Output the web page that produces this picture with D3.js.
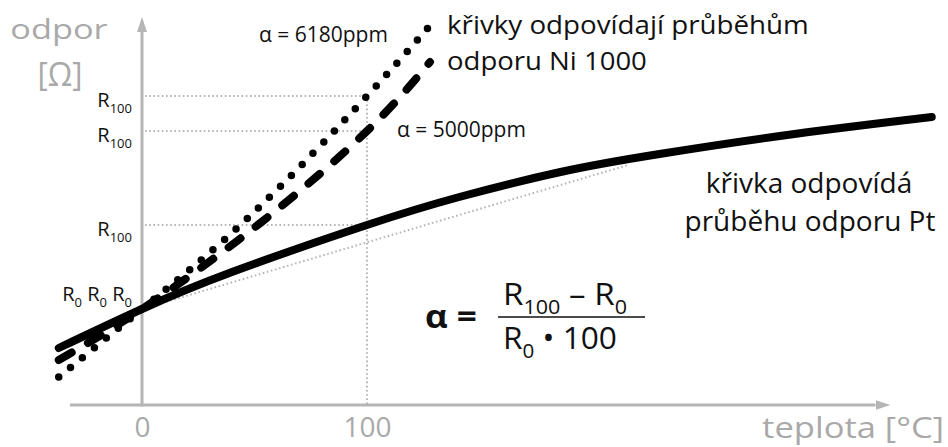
<!doctype html>
<html lang="cs">
<head>
<meta charset="utf-8">
<title>Odpor v závislosti na teplotě</title>
<script src="https://cdn.jsdelivr.net/npm/d3@7"></script>
<style>
  body { margin: 0; background: #fff; }
  svg text { font-family: "Open Sans", sans-serif; }
</style>
</head>
<body>
<script>
// teplota [°C] a odpor (libovolné jednotky)
const ptTemp = [-37, 0, 40, 100, 141, 186, 230, 290, 351];
const ptRes = [57, 96, 133, 180, 208, 233, 251, 271, 288];
const ni6180Temp = [-37, 0, 48, 100, 129];
const ni6180Res = [28, 96, 189, 309, 382];
const ni5000Temp = [-37, 0, 52, 100, 128];
const ni5000Res = [45, 96, 181, 274, 343];
const chordTemp = [0, 216];
const chordRes = [96, 240];
const r0 = 96;
const r100Levels = [309, 274, 180];
const tickValues = [0, 100];
const xExtent = [-32, 326];
const yExtent = [0, 373];

const w = 948, h = 447;
const gray = "#b5b5b5";
const textGray = "#a9a9a9";

const xScale = d3.scaleLinear().domain([0, 100]).range([142, 367]);
const yScale = d3.scaleLinear().domain([0, 400]).range([405, 5]);

const svg = d3.select("body").append("svg")
  .attr("width", w)
  .attr("height", h);

svg.append("defs").append("marker")
  .attr("id", "arrow")
  .attr("viewBox", "0 -5 15 10")
  .attr("refX", 0).attr("refY", 0)
  .attr("markerUnits", "userSpaceOnUse")
  .attr("markerWidth", 15).attr("markerHeight", 10)
  .attr("orient", "auto")
  .append("path")
  .attr("d", "M0,-5L15,0L0,5Z")
  .attr("fill", gray);

const zip = (a, b) => a.map((d, i) => [d, b[i]]);
const line = d3.line()
  .x(d => xScale(d[0]))
  .y(d => yScale(d[1]))
  .curve(d3.curveNatural);

// pomocné tečkované čáry
const guides = svg.append("g")
  .attr("stroke", gray)
  .attr("stroke-width", 2)
  .attr("stroke-dasharray", "1.6,2.6")
  .attr("fill", "none");

guides.selectAll(".r100")
  .data(r100Levels)
  .join("line")
  .attr("x1", xScale(0) + 3).attr("x2", xScale(100))
  .attr("y1", d => yScale(d)).attr("y2", d => yScale(d));

guides.append("line")
  .attr("x1", xScale(100)).attr("x2", xScale(100))
  .attr("y1", yScale(d3.max(r100Levels))).attr("y2", yScale(0));

guides.append("path")
  .attr("d", d3.line().x(d => xScale(d[0])).y(d => yScale(d[1]))(zip(chordTemp, chordRes)));

// osy
svg.append("line")
  .attr("x1", xScale(0)).attr("x2", xScale(0))
  .attr("y1", yScale(yExtent[0]) + 1.5).attr("y2", yScale(yExtent[1]))
  .attr("stroke", gray).attr("stroke-width", 3)
  .attr("marker-end", "url(#arrow)");

svg.append("line")
  .attr("x1", xScale(xExtent[0])).attr("x2", xScale(xExtent[1]))
  .attr("y1", yScale(0)).attr("y2", yScale(0))
  .attr("stroke", gray).attr("stroke-width", 3)
  .attr("marker-end", "url(#arrow)");

const xAxis = d3.axisBottom(xScale).tickValues(tickValues).tickSize(0).tickPadding(12);
svg.append("g")
  .attr("transform", "translate(0," + yScale(0) + ")")
  .call(xAxis)
  .call(g => g.select(".domain").remove())
  .selectAll("text")
  .attr("font-family", null)
  .style("font-size", "28px")
  .attr("fill", textGray);

// křivky
svg.append("path")
  .attr("d", line(zip(ptTemp, ptRes)))
  .attr("fill", "none").attr("stroke", "#000")
  .attr("stroke-width", 8).attr("stroke-linecap", "round");

svg.append("path")
  .attr("d", line(zip(ni5000Temp, ni5000Res)))
  .attr("fill", "none").attr("stroke", "#000")
  .attr("stroke-width", 8).attr("stroke-linecap", "round")
  .attr("stroke-dasharray", "15,19");

svg.append("path")
  .attr("d", line(zip(ni6180Temp, ni6180Res)))
  .attr("fill", "none").attr("stroke", "#000")
  .attr("stroke-width", 7.5).attr("stroke-linecap", "round")
  .attr("stroke-dasharray", "0,15.4");

// texty
function rich(x, y, parts, size, anchor, opts = {}) {
  const t = svg.append("text")
    .attr("x", x).attr("y", y)
    .attr("text-anchor", anchor || "start")
    .attr("fill", opts.fill || "#111")
    .style("font-size", size + "px");
  if (opts.bold) t.attr("font-weight", "bold");
  let shift = 0;
  parts.forEach(p => {
    const isSub = Array.isArray(p);
    const txt = isSub ? p[0] : p;
    const target = isSub ? size * 0.28 : 0;
    t.append("tspan")
      .attr("dy", target - shift)
      .style("font-size", (isSub ? size * 0.65 : size) + "px")
      .text(txt);
    shift = target;
  });
  // roztažení na šířku jako v předloze
  if (opts.width) {
    const bw = t.node().getBBox().width;
    const k = opts.width / bw;
    t.attr("transform", `translate(${x},0) scale(${k},1) translate(${-x},0)`);
  }
  return t;
}

rich(59, 39, ["odpor"], 28, "middle", { fill: textGray, width: 98 });
rich(60, 86, ["[Ω]"], 32, "middle", { fill: textGray, width: 45 });
rich(944, 438, ["teplota [°C]"], 29, "end", { fill: textGray, width: 182 });

r100Levels.forEach(v => rich(132, yScale(v) + 11, ["R", ["100"]], 20, "end"));
rich(132, yScale(r0) - 8, ["R", ["0"], " R", ["0"], " R", ["0"]], 20, "end");

rich(259, 42, ["α = 6180ppm"], 21, "start");
rich(397, 137, ["α = 5000ppm"], 21, "start");

rich(447, 34, ["křivky odpovídají průběhům"], 26, "start", { width: 362 });
rich(447, 70, ["odporu Ni 1000"], 26, "start", { width: 200 });
rich(809, 193, ["křivka odpovídá"], 28, "middle");
rich(810, 231, ["průběhu odporu Pt"], 28, "middle");

// vzorec
rich(425, 328, ["α ="], 33, "start", { bold: true, width: 52 });
rich(503, 305, ["R", ["100"], " – R", ["0"]], 31, "start", { width: 124 });
rich(503, 349, ["R", ["0"], " • 100"], 31, "start", { width: 114 });
svg.append("line")
  .attr("x1", 498).attr("x2", 645)
  .attr("y1", 317).attr("y2", 317)
  .attr("stroke", "#111").attr("stroke-width", 1.6);
</script>
</body>
</html>
